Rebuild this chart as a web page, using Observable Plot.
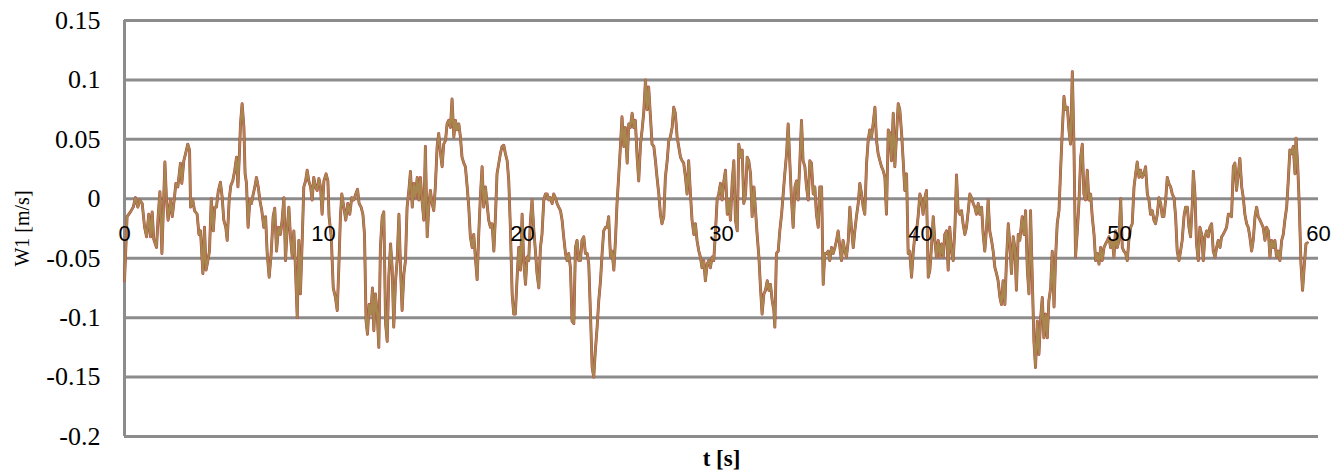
<!DOCTYPE html>
<html>
<head>
<meta charset="utf-8">
<script src="https://cdn.jsdelivr.net/npm/d3@7"></script>
<script src="https://cdn.jsdelivr.net/npm/@observablehq/plot@0.6"></script>
<style>
  html, body { margin: 0; padding: 0; background: white; }
</style>
</head>
<body>
<div id="chart"></div>
<script>
const yTicks = [-0.2, -0.15, -0.1, -0.05, 0, 0.05, 0.1, 0.15];
const yLabels = ["-0.2", "-0.15", "-0.1", "-0.05", "0", "0.05", "0.1", "0.15"];
const xTicks = [0, 10, 20, 30, 40, 50, 60];
const xLabels = ["0", "10", "20", "30", "40", "50", "60"];

const time = [
0,0.13,0.30,0.44,0.55,0.67,0.77,0.89,1.01,1.11,
1.22,1.31,1.39,1.47,1.61,1.69,1.78,1.88,1.94,2.03,
2.11,2.19,2.31,2.40,2.51,2.58,2.68,2.81,2.88,2.98,
3.07,3.18,3.27,3.32,3.43,3.52,3.65,3.74,3.82,3.94,
4.02,4.10,4.19,4.27,4.36,4.46,4.54,4.62,4.71,4.82,
4.91,4.99,5.09,5.16,5.26,5.34,5.44,5.54,5.63,5.70,
5.76,5.83,5.91,6.00,6.06,6.13,6.21,6.30,6.38,6.47,
6.55,6.63,6.72,6.80,6.90,7.00,7.09,7.17,7.27,7.37,
7.47,7.55,7.64,7.74,7.84,7.92,8.01,8.09,8.17,8.26,
8.34,8.43,8.51,8.59,8.68,8.76,8.84,8.93,9.01,9.10,
9.18,9.26,9.35,9.43,9.51,9.60,9.68,9.77,9.85,9.93,
10.02,10.13,10.22,10.28,10.39,10.49,10.60,10.69,10.77,10.85,
10.92,11.02,11.12,11.22,11.32,11.42,11.52,11.62,11.71,11.79,
11.89,11.98,12.06,12.14,12.21,12.29,12.38,12.46,12.53,12.61,
12.70,12.78,12.86,12.95,13.03,13.12,13.20,13.28,13.37,13.45,
13.53,13.62,13.70,13.79,13.87,13.95,14.04,14.12,14.20,14.29,
14.37,14.46,14.54,14.62,14.71,14.79,
14.87,14.95,15.04,15.12,15.21,15.29,15.37,15.46,15.54,15.62,
15.71,15.79,15.88,15.96,16.04,16.13,16.21,16.29,16.38,16.46,
16.55,16.63,16.71,16.80,16.88,16.96,17.05,17.13,17.22,17.30,
17.38,17.47,17.55,17.63,17.72,17.80,17.89,17.97,18.05,18.14,
18.22,18.30,18.39,18.47,18.56,18.64,18.72,18.81,18.89,18.97,
19.06,19.14,19.23,19.31,19.39,19.48,19.56,19.64,19.73,19.81,
19.90,19.98,20.06,20.15,20.23,20.31,20.40,20.48,20.57,20.65,
20.73,20.82,20.90,20.98,21.07,21.15,21.24,21.32,21.40,21.49,
21.57,21.65,21.74,21.82,21.91,21.99,22.07,22.16,22.24,22.32,
22.41,22.49,22.58,22.66,22.74,22.83,22.91,22.99,23.08,23.16,
23.25,23.33,23.41,23.50,23.58,23.66,23.75,23.83,23.92,24.00,
24.08,24.17,24.25,24.33,24.42,24.50,24.59,24.67,24.75,24.84,
24.92,25.00,25.09,25.17,25.26,25.34,25.42,25.51,25.59,25.67,
25.76,25.84,25.93,26.01,26.09,26.18,26.26,26.34,26.43,26.51,
26.60,26.68,26.76,26.85,26.93,27.01,27.10,27.18,27.27,27.35,
27.43,27.52,27.60,27.68,27.77,27.85,27.94,28.02,28.10,28.19,
28.27,28.35,28.44,28.52,28.61,28.69,28.77,28.86,28.94,29.02,
29.11,29.19,29.28,29.36,29.44,29.53,29.61,29.69,29.78,29.86,
29.95,30.03,30.12,30.20,30.29,30.37,30.45,30.54,30.62,30.70,
30.79,30.87,30.96,31.04,31.12,31.21,31.29,31.37,31.46,31.54,
31.63,31.71,31.79,31.88,31.96,32.04,32.13,32.21,32.30,32.38,
32.46,32.55,32.63,32.68,32.76,32.85,32.93,33.02,33.10,33.18,
33.27,33.35,33.43,33.52,33.60,33.69,33.77,33.85,33.94,34.02,
34.10,34.19,34.27,34.36,34.44,34.52,34.61,34.69,34.77,34.86,
34.94,35.03,35.11,35.19,35.28,35.36,35.44,35.53,35.61,35.70,
35.78,35.86,35.95,36.03,36.11,36.20,36.28,36.37,36.45,36.53,
36.62,36.70,36.78,36.87,36.95,37.04,37.12,37.20,37.29,37.37,
37.45,37.54,37.62,37.71,37.79,37.87,37.96,38.04,38.12,38.21,
38.29,38.38,38.46,38.54,38.63,38.71,38.79,38.88,38.96,39.05,
39.13,39.21,39.30,39.38,39.46,39.55,39.63,39.72,39.80,39.88,
39.97,40.05,40.13,40.22,40.30,40.39,40.47,40.55,40.64,40.72,
40.80,40.89,40.97,41.06,41.14,41.22,41.31,41.39,41.47,41.56,
41.64,41.73,41.81,41.89,41.98,42.06,42.14,42.23,42.31,42.40,
42.48,42.56,42.65,42.73,42.81,42.90,42.98,43.07,43.15,43.23,
43.32,43.40,43.48,43.57,43.65,43.74,43.82,43.90,43.99,44.07,
44.15,44.24,44.32,44.41,44.49,44.57,44.66,44.74,44.82,44.91,
44.99,
45.11,45.20,45.28,45.37,45.45,45.53,45.62,45.70,45.78,45.87,
45.95,46.04,46.12,46.20,46.29,46.37,46.45,46.54,46.62,46.71,
46.79,46.87,46.96,47.04,47.12,47.21,47.29,47.38,47.46,47.54,
47.63,47.71,47.79,47.88,47.96,48.05,48.13,48.21,48.30,48.38,
48.46,48.55,48.63,48.72,48.80,48.88,48.97,49.05,49.13,49.22,
49.30,49.39,49.47,49.55,49.64,49.72,49.80,49.89,49.97,50.06,
50.14,50.22,50.31,50.39,50.47,50.56,50.64,50.73,50.81,50.89,
50.98,51.06,51.14,51.23,51.31,51.40,51.48,51.56,51.65,51.73,
51.81,51.90,51.98,52.07,52.15,52.23,52.32,52.40,52.48,52.57,
52.65,52.74,52.82,52.90,52.99,53.07,53.15,53.24,53.32,53.41,
53.49,53.57,53.66,53.71,53.79,53.87,53.96,54.04,54.13,54.21,
54.29,54.38,54.46,54.54,54.63,54.71,54.80,54.88,54.96,55.05,
55.13,55.21,55.30,55.38,55.47,55.55,55.63,55.72,55.80,55.88,
55.97,56.05,56.14,56.22,56.30,56.39,56.47,56.55,56.64,56.72,
56.81,56.89,56.97,57.06,57.14,57.22,57.31,57.39,57.48,57.56,
57.64,57.73,57.81,57.89,57.98,58.06,58.15,58.23,58.31,58.40,
58.48,58.56,58.65,58.73,58.82,58.87,58.95,59.03,59.12,59.20,
59.29,59.37,59.44
];

const w1 = [
-0.069,-0.015,-0.011,-0.007,0.001,-0.007,-0.001,-0.004,-0.024,-0.032,
-0.013,-0.032,-0.011,-0.034,-0.041,-0.015,0.006,-0.046,-0.015,0.031,
-0.001,-0.018,-0.001,-0.015,0.001,0.013,0.010,0.030,0.013,0.032,
0.038,0.046,0.041,-0.007,-0.001,-0.010,-0.013,-0.030,-0.027,-0.063,
-0.024,-0.060,-0.052,-0.044,0,-0.027,-0.007,-0.007,0.006,0.014,
0.001,-0.018,-0.024,-0.035,-0.001,0.011,0.015,0.024,0.035,0.010,
0.032,0.063,0.080,0.060,0.021,0.013,-0.024,-0.001,-0.004,0.004,
0.010,0.018,0.010,-0.001,-0.010,-0.024,-0.015,-0.046,-0.066,-0.046,
-0.015,-0.008,-0.044,-0.024,-0.030,-0.018,0.001,-0.052,-0.027,-0.007,
-0.032,-0.049,-0.027,-0.058,-0.100,-0.035,-0.080,-0.035,0.010,0.015,
0.024,0.015,0.010,-0.001,0.018,0.010,0.007,0.017,0.010,-0.013,
0.015,0.021,0.015,-0.015,-0.032,-0.075,-0.083,-0.094,-0.058,-0.015,
0.004,-0.007,-0.018,-0.004,-0.013,0.001,-0.001,0.004,0.008,-0.004,
-0.007,-0.013,-0.030,-0.103,-0.114,-0.089,-0.097,-0.075,-0.111,-0.080,
-0.097,-0.125,-0.041,-0.015,-0.011,-0.105,-0.120,-0.066,-0.038,-0.058,
-0.108,-0.069,-0.052,-0.013,-0.058,-0.094,-0.063,-0.052,-0.007,0.007,
0.023,-0.007,0.013,0.001,0.018,-0.001,
0.018,-0.001,-0.018,0.044,-0.032,-0.007,0.007,-0.004,-0.010,0.010,
0.044,0.055,0.038,0.027,0.046,0.049,0.063,0.066,0.060,0.084,
0.052,0.066,0.058,0.063,0.052,0.035,0.030,0.027,0.010,-0.007,
-0.032,-0.041,-0.030,-0.049,-0.068,-0.030,0.004,0.027,-0.007,0.010,
-0.004,-0.018,-0.024,-0.021,-0.044,-0.015,0.021,0.030,0.038,0.044,
0.045,0.038,0.032,0.015,-0.024,-0.080,-0.097,-0.097,-0.066,-0.041,
-0.060,-0.013,-0.052,-0.072,-0.049,-0.052,-0.018,-0.001,-0.027,-0.044,
-0.063,-0.075,-0.041,-0.030,-0.001,0.004,0.004,-0.001,0.001,-0.004,
0.004,0.001,-0.004,-0.007,-0.010,-0.018,-0.032,-0.046,-0.052,-0.046,
-0.058,-0.103,-0.105,-0.041,-0.035,-0.052,-0.052,-0.035,-0.032,-0.046,
-0.046,-0.055,-0.094,-0.142,-0.150,-0.128,-0.108,-0.086,-0.069,-0.046,
-0.027,-0.024,-0.024,-0.015,-0.049,-0.044,-0.060,-0.035,-0.004,0.021,
0.044,0.069,0.044,0.060,0.030,0.063,0.060,0.072,0.060,0.066,
0.035,0.015,0.046,0.058,0.072,0.100,0.075,0.094,0.069,0.046,
0.044,0.032,0.018,0.004,-0.013,-0.021,-0.015,0.018,0.032,0.049,
0.052,0.060,0.077,0.072,0.052,0.044,0.035,0.032,0.030,0.018,
0.004,0.032,0.004,-0.018,-0.030,-0.021,-0.035,-0.044,-0.049,-0.058,
-0.052,-0.069,-0.055,-0.052,-0.058,-0.049,-0.052,-0.030,-0.001,0.004,
0.013,-0.001,0.015,0.024,-0.013,-0.001,-0.018,0.015,0.032,-0.018,
-0.027,0.046,0.035,0.041,-0.004,0.004,0.035,0.032,0.021,-0.015,
0.010,-0.010,-0.030,-0.049,-0.075,-0.097,-0.080,-0.077,-0.069,-0.077,
-0.072,-0.086,-0.094,-0.108,-0.046,-0.044,-0.027,-0.013,0.004,0.021,
0.038,0.063,0.032,-0.001,-0.024,0.010,0.015,-0.001,0.032,0.066,
0.032,0.027,0.010,-0.001,0.032,0.030,0.004,0.010,-0.013,-0.024,
0.010,0.010,-0.072,-0.046,-0.046,-0.044,-0.052,-0.041,-0.046,-0.041,
-0.035,-0.027,-0.041,-0.052,-0.035,-0.044,-0.049,-0.035,-0.007,-0.024,
-0.041,-0.027,-0.015,-0.004,0.013,0.004,-0.007,-0.013,0.030,0.049,
0.058,0.052,0.063,0.077,0.049,0.038,0.032,0.027,0.024,0.018,
-0.013,0.058,0.055,0.032,0.072,0.027,0.052,0.080,0.075,0.055,
0.032,0.007,0.021,-0.046,-0.044,-0.066,-0.046,-0.030,-0.027,-0.015,
0.004,-0.001,-0.013,0.001,0.007,-0.066,-0.060,-0.041,-0.015,-0.035,
-0.049,-0.035,-0.049,-0.038,-0.049,-0.030,-0.027,-0.060,-0.024,-0.044,
-0.052,-0.024,0.020,-0.010,-0.013,-0.010,-0.021,-0.030,-0.024,-0.010,
0.004,0.001,-0.004,-0.007,-0.013,-0.004,-0.013,-0.007,-0.030,-0.044,
-0.024,-0.001,-0.027,-0.035,-0.044,-0.058,-0.063,-0.069,-0.083,-0.089,
-0.069,-0.089,-0.052,-0.021,-0.038,-0.063,-0.032,-0.041,-0.077,-0.030,
-0.035,
-0.015,-0.030,-0.010,-0.060,-0.080,-0.010,-0.069,-0.120,-0.142,-0.103,
-0.131,-0.100,-0.083,-0.117,-0.097,-0.117,-0.086,-0.075,-0.044,-0.091,
-0.049,-0.021,-0.010,0.024,0.055,0.086,0.075,0.077,0.058,0.046,
0.107,0.046,-0.049,-0.027,-0.004,0.035,0.046,0.004,-0.001,0.024,
-0.001,0.004,-0.015,-0.030,-0.052,-0.046,-0.055,-0.041,-0.052,-0.041,
-0.038,-0.035,-0.032,-0.041,-0.035,-0.049,-0.027,-0.041,-0.035,0,
-0.041,-0.044,-0.046,-0.052,-0.035,-0.024,-0.021,0.010,0.021,0.031,
0.018,0.024,0.018,0.021,0.027,0.004,-0.001,-0.013,-0.010,-0.018,
-0.021,-0.013,0.001,-0.004,-0.015,-0.015,-0.001,0.018,0.013,0.010,
0.004,0.001,-0.015,-0.044,-0.052,-0.044,-0.035,-0.015,-0.007,-0.007,
-0.024,-0.032,-0.004,0.023,0.004,-0.038,-0.052,-0.024,-0.030,-0.052,
-0.032,-0.027,-0.032,-0.024,-0.021,-0.044,-0.049,-0.041,-0.035,-0.041,
-0.032,-0.030,-0.027,-0.024,-0.013,-0.013,-0.015,0.027,0.030,0.007,
0.021,0.034,0.010,0.001,-0.013,-0.021,-0.024,-0.032,-0.044,-0.035,
-0.015,-0.007,-0.015,-0.018,-0.021,-0.024,-0.035,-0.024,-0.027,-0.049,
-0.035,-0.041,-0.035,-0.049,-0.044,-0.052,-0.035,-0.030,-0.018,-0.007,
0.015,0.041,0.038,0.044,0.021,0.051,0.030,-0.004,-0.055,-0.077,
-0.055,-0.038,-0.037
];

const data = time.map((t, i) => ({t, w: w1[i]}));

const serif = "Liberation Serif";
const sans = "Liberation Sans";

const chart = Plot.plot({
  width: 1336,
  height: 470,
  marginLeft: 124,
  marginRight: 18,
  marginTop: 20,
  marginBottom: 34,
  x: {domain: [0, 60], axis: null},
  y: {domain: [-0.2, 0.15]},
  style: {background: "white", color: "black"},
  marks: [
    Plot.ruleY(yTicks, {stroke: "#8c8c8c", strokeWidth: 3}),
    Plot.ruleX([0], {stroke: "#8c8c8c", strokeWidth: 3}),
    Plot.axisY(yTicks, {
      tickSize: 0,
      tickPadding: 24,
      fontSize: 26,
      fontFamily: serif,
      label: null,
      tickFormat: d => yLabels[yTicks.indexOf(d)]
    }),
    Plot.line(data, {x: "t", y: "w", stroke: "#B83A48", strokeWidth: 2.9}),
    Plot.line(data, {x: "t", y: "w", stroke: "#A8874E", strokeWidth: 2.2}),
    Plot.text(xTicks, {
      x: d => d,
      y: () => 0,
      text: d => xLabels[xTicks.indexOf(d)],
      dy: 35,
      fontSize: 22,
      fontFamily: sans,
      fill: "black"
    }),
    Plot.text(["W1 [m/s]"], {
      frameAnchor: "left",
      text: d => d,
      textAnchor: "middle",
      lineAnchor: "middle",
      dx: -102,
      rotate: -90,
      fontSize: 20,
      fontFamily: serif,
      fill: "black"
    }),
    Plot.text(["t [s]"], {
      frameAnchor: "bottom",
      text: d => d,
      textAnchor: "middle",
      lineAnchor: "middle",
      dy: 22,
      fontSize: 23,
      fontFamily: serif,
      fontWeight: "bold",
      fill: "black"
    })
  ]
});

document.getElementById("chart").appendChild(chart);
</script>
</body>
</html>
